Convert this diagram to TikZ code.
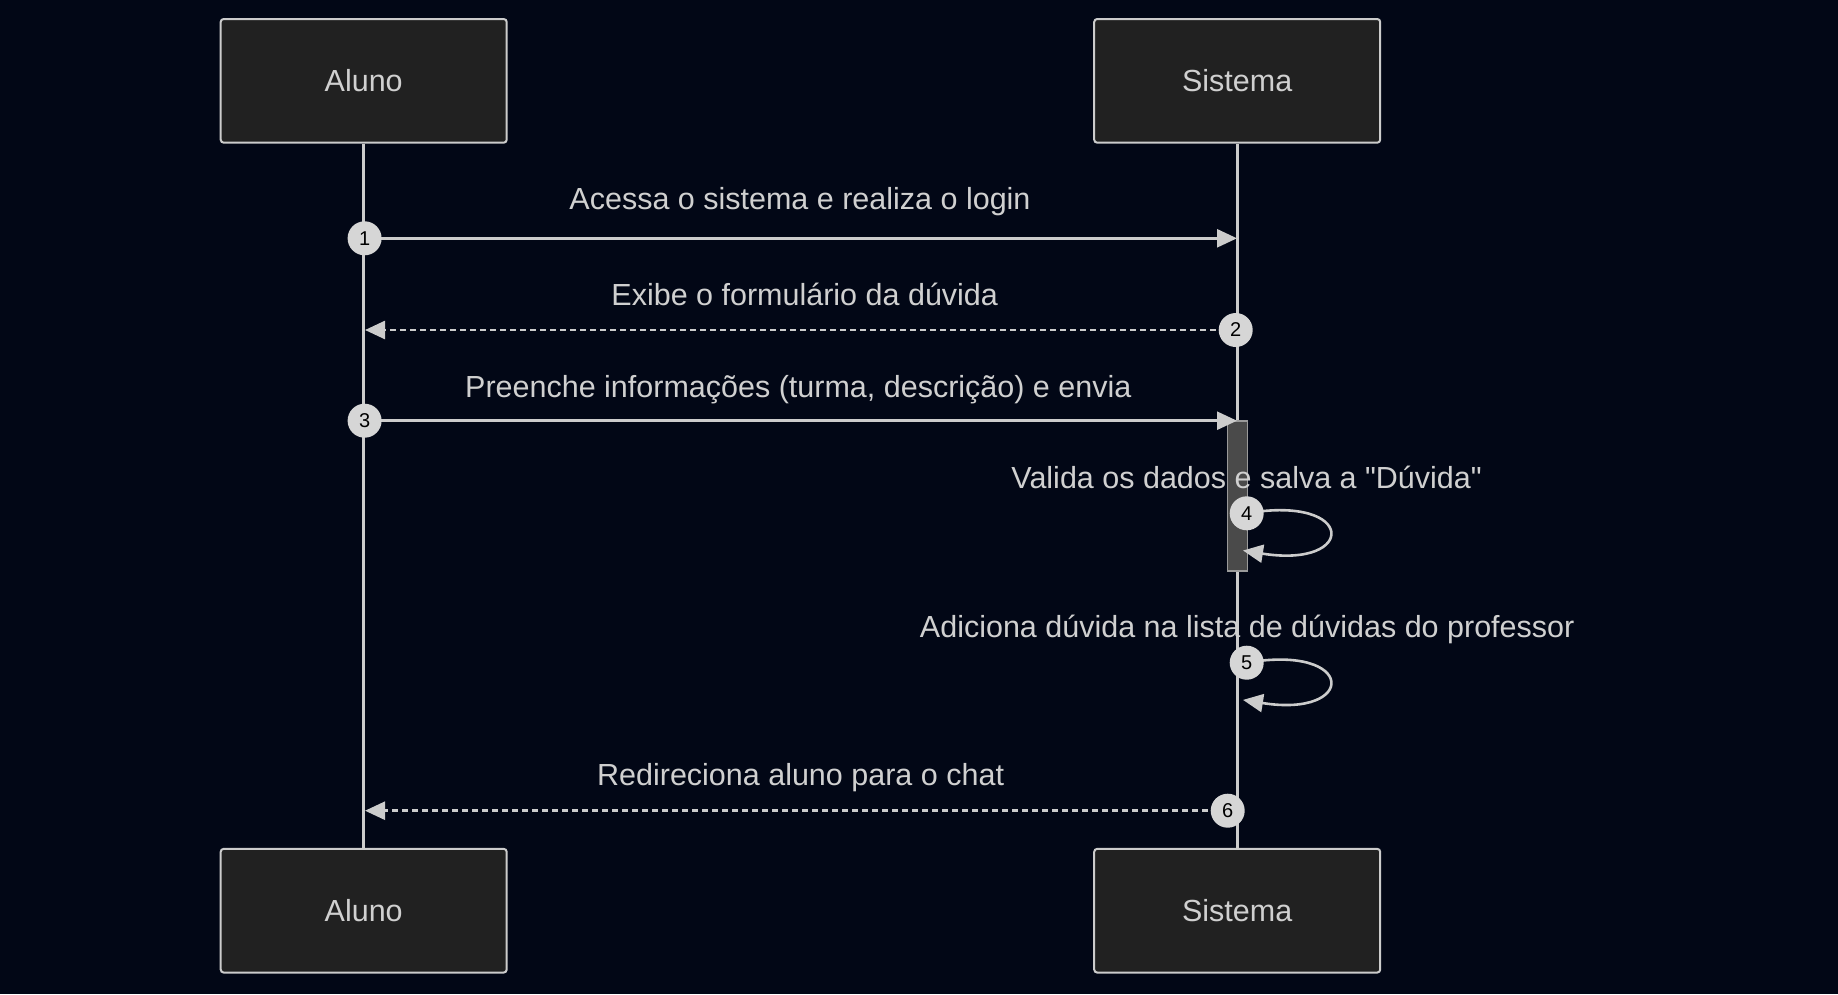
\documentclass[tikz,border=0pt]{standalone}
\usepackage{fontspec}
\setmainfont{Liberation Sans}[Ligatures=TeXOff]
\usetikzlibrary{arrows.meta}
\definecolor{bg}{HTML}{020716}
\definecolor{boxfill}{HTML}{212121}
\definecolor{fg}{HTML}{CCCCCC}
\definecolor{txt}{HTML}{D0D0D0}
\definecolor{numfill}{HTML}{D6D6D6}
\definecolor{actfill}{HTML}{4A4A4A}
\definecolor{actdraw}{HTML}{9A9A9A}
\begin{document}
\begin{tikzpicture}[x=1pt,y=-1pt,
  actor/.style={draw=fg, line width=2pt, fill=boxfill, rounded corners=3pt,
    minimum width=286pt, minimum height=123.7pt, inner sep=0pt, text=txt,
    font=\fontsize{30.5}{36}\selectfont},
  lifeline/.style={draw=fg, line width=3pt},
  msg/.style={draw=fg, line width=2.6pt, -{Triangle[length=20pt,width=18pt]}},
  reply/.style={msg, dash pattern=on 6pt off 4pt},
  loopmsg/.style={draw=fg, line width=2.6pt, -{Triangle[length=20pt,width=18pt]}},
  num/.style={circle, fill=numfill, minimum size=34pt, inner sep=0pt,
    font=\fontsize{20}{23}\selectfont, text=black},
  lbl/.style={text=txt, font=\fontsize{30.5}{36}\selectfont, anchor=base, inner sep=0pt},
  activation/.style={draw=actdraw, fill=actfill, line width=1.5pt,
    minimum width=20pt, minimum height=150pt, inner sep=0pt},
]
\fill[bg] (0,0) rectangle (1838,994);
\useasboundingbox (0,0) rectangle (1838,994);

% actors
\node[actor] (aTop) at (363.7,80.85) {Aluno};
\node[actor] (sTop) at (1237.2,80.85) {Sistema};
\node[actor] (aBot) at (363.7,910.7) {Aluno};
\node[actor] (sBot) at (1237.2,910.7) {Sistema};

% lifelines
\draw[lifeline] (aTop.south) -- (aBot.north);
\draw[lifeline] (sTop.south) -- (sBot.north);

% activation
\node[activation] (act) at (1237.5,495.9) {};

% anchor coordinates
\coordinate (c1) at (364.6,238.3);
\coordinate (e1) at (1237,238.3);
\coordinate (c2) at (1235.7,330);
\coordinate (e2) at (365,330);
\coordinate (c3) at (364.6,420.7);
\coordinate (e3) at (1237,420.7);
\coordinate (c4) at (1246.7,513.3);
\coordinate (e4) at (1243,550.5);
\coordinate (c5) at (1246.7,662.7);
\coordinate (e5) at (1243,699.9);
\coordinate (c6) at (1227.7,810.7);
\coordinate (e6) at (365,810.7);

% messages
\draw[msg] (c1) -- (e1);
\draw[reply] (c2) -- (e2);
\draw[msg] (c3) -- (e3);
\draw[loopmsg] (c4) .. controls (1357,494.3) and (1357,568.8) .. (e4);
\draw[loopmsg] (c5) .. controls (1357,643.7) and (1357,718.2) .. (e5);
\draw[reply] (c6) -- (e6);

% numbers
\node[num] (n1) at (c1) {1};
\node[num] (n2) at (c2) {2};
\node[num] (n3) at (c3) {3};
\node[num] (n4) at (c4) {4};
\node[num] (n5) at (c5) {5};
\node[num] (n6) at (c6) {6};

% labels
\node[lbl] (l1) at (800,209.8) {Acessa o sistema e realiza o login};
\node[lbl] (l2) at (804.7,305) {Exibe o formulário da dúvida};
\node[lbl] (l3) at (798.3,397.3) {Preenche informações (turma, descrição) e envia};
\node[lbl] (l4) at (1246.6,488.3) {Valida os dados e salva a "Dúvida"};
\node[lbl] (l5) at (1247.2,637.7) {Adiciona dúvida na lista de dúvidas do professor};
\node[lbl] (l6) at (800.6,785.7) {Redireciona aluno para o chat};
\end{tikzpicture}
\end{document}
